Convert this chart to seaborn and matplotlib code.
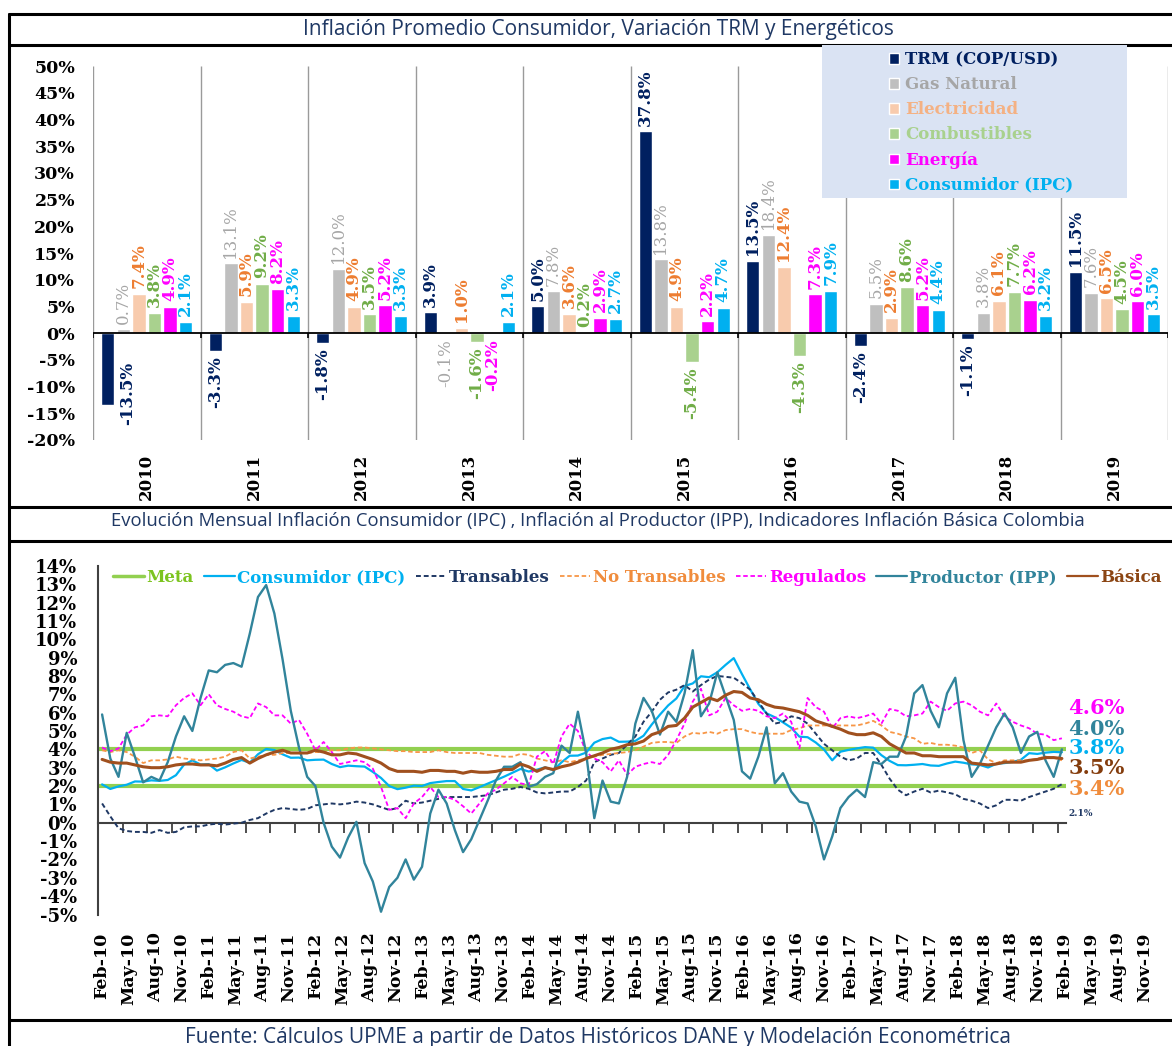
import numpy as np
import pandas as pd
import seaborn as sns
import matplotlib.pyplot as plt
from matplotlib.lines import Line2D
from matplotlib.patches import Patch, Rectangle

# ---------------- datos: variación anual (%) ----------------
years = ['2010', '2011', '2012', '2013', '2014', '2015', '2016', '2017', '2018', '2019']
trm = [-13.5, -3.3, -1.8, 3.9, 5.0, 37.8, 13.5, -2.4, -1.1, 11.5]
gas_natural = [0.7, 13.1, 12.0, -0.1, 7.8, 13.8, 18.4, 5.5, 3.8, 7.6]
electricidad = [7.4, 5.9, 4.9, 1.0, 3.6, 4.9, 12.4, 2.9, 6.1, 6.5]
combustibles = [3.8, 9.2, 3.5, -1.6, 0.2, -5.4, -4.3, 8.6, 7.7, 4.5]
energia = [4.9, 8.2, 5.2, -0.2, 2.9, 2.2, 7.3, 5.2, 6.2, 6.0]
ipc_anual = [2.1, 3.3, 3.3, 2.1, 2.7, 4.7, 7.9, 4.4, 3.2, 3.5]

bar_names = ['TRM (COP/USD)', 'Gas Natural', 'Electricidad', 'Combustibles', 'Energía', 'Consumidor (IPC)']
bar_colors = ['#002060', '#BFBFBF', '#F8CBAD', '#A9D18E', '#FF00FF', '#00B0F0']
bar_label_colors = ['#002060', '#A6A6A6', '#ED7D31', '#70AD47', '#FF00FF', '#00B0F0']
bar_legend_colors = ['#002060', '#A6A6A6', '#F4B183', '#A9D18E', '#FF00FF', '#00B0F0']

# ---------------- datos: series mensuales Feb-10 .. Nov-19 (%) ----------------
months = pd.date_range('2010-02-01', periods=118, freq='MS')
meta = [2.0, 4.0]

ipc = [2.09, 1.84, 1.98, 2.07, 2.25, 2.24, 2.31, 2.28, 2.33, 2.59, 3.17,
       3.40, 3.17, 3.19, 2.84, 3.02, 3.23, 3.42, 3.27, 3.73, 4.02, 3.96, 3.73,
       3.54, 3.55, 3.40, 3.43, 3.44, 3.20, 3.03, 3.11, 3.08, 3.06, 2.77, 2.44,
       2.00, 1.83, 1.91, 2.02, 2.00, 2.16, 2.22, 2.27, 2.27, 1.84, 1.76, 1.94,
       2.13, 2.32, 2.51, 2.72, 2.93, 2.79, 2.89, 3.02, 2.86, 3.29, 3.65, 3.66,
       3.82, 4.36, 4.56, 4.64, 4.41, 4.42, 4.46, 4.74, 5.35, 5.89, 6.39, 6.77,
       7.45, 7.59, 7.98, 7.93, 8.20, 8.60, 8.97, 8.10, 7.27, 6.48, 5.96, 5.75,
       5.47, 5.18, 4.69, 4.66, 4.37, 3.99, 3.40, 3.87, 3.97, 4.05, 4.12, 4.09,
       3.68, 3.37, 3.14, 3.13, 3.16, 3.20, 3.12, 3.10, 3.23, 3.33, 3.27, 3.18,
       3.15, 3.01, 3.21, 3.25, 3.31, 3.43, 3.79, 3.75, 3.82, 3.86, 3.84]

transables = [1.05, 0.35, -0.3, -0.45, -0.5, -0.5, -0.55, -0.4, -0.55, -0.5, -0.25, -0.2, -0.2, -0.1, -0.05, -0.1, -0.05,
              0.0, 0.15, 0.25, 0.5, 0.7, 0.8, 0.75, 0.7, 0.75, 0.95, 1.0, 1.05, 1.0, 1.05, 1.15, 1.1, 1.0,
              0.85, 0.7, 0.8, 1.2, 1.05, 1.1, 1.2, 1.3, 1.4, 1.4, 1.4, 1.4, 1.45, 1.5, 1.65, 1.8,
              1.85, 1.95, 1.85, 1.65, 1.6, 1.65, 1.7, 1.7, 1.95, 2.3, 3.3, 3.5, 3.7, 3.8, 4.25, 4.7, 5.5,
              6.05, 6.7, 7.1, 7.25, 7.5, 7.15, 7.5, 7.8, 8.0, 7.95, 7.9, 7.6, 7.25, 6.6, 5.95, 5.4, 5.5,
              5.8, 5.7, 5.4, 4.85, 4.3, 3.95, 3.6, 3.4, 3.5, 3.8, 3.8, 3.15, 2.4, 1.8, 1.5, 1.7, 1.85,
              1.65, 1.75, 1.65, 1.55, 1.3, 1.2, 1.05, 0.8, 0.95, 1.25, 1.25, 1.2, 1.4, 1.55, 1.7, 1.85, 2.1]

no_transables = [3.95, 3.85, 3.95, 3.85, 3.6, 3.25, 3.4, 3.4, 3.45, 3.6, 3.5, 3.45, 3.4, 3.45, 3.5, 3.6, 3.85,
                 3.95, 3.5, 3.6, 3.7, 3.7, 3.8, 3.8, 3.8, 3.8, 3.85, 3.85, 3.95, 3.95, 4.05, 4.1, 4.1, 4.05,
                 4.0, 3.95, 3.9, 3.9, 3.85, 3.85, 3.85, 3.95, 3.85, 3.8, 3.8, 3.8, 3.8, 3.7, 3.65, 3.6,
                 3.6, 3.75, 3.7, 3.5, 3.4, 3.3, 3.4, 3.3, 3.4, 3.5, 3.6, 3.7, 3.75, 3.8, 3.85, 3.95, 4.15,
                 4.35, 4.4, 4.4, 4.35, 4.7, 4.9, 4.85, 4.95, 4.85, 5.05, 5.1, 5.1, 4.95, 4.85, 4.85, 4.85, 4.85,
                 5.05, 5.15, 5.3, 5.3, 5.3, 5.3, 5.3, 5.3, 5.3, 5.4, 5.55, 5.3, 4.95, 4.85, 4.7, 4.6, 4.3,
                 4.35, 4.25, 4.25, 4.2, 4.1, 3.8, 3.95, 3.45, 3.25, 3.4, 3.4, 3.4, 3.4, 3.5, 3.6, 3.55, 3.4]

regulados = [4.1, 3.9, 4.05, 4.8, 5.2, 5.3, 5.8, 5.85, 5.8, 6.4, 6.8, 7.05, 6.4, 7.0, 6.4, 6.2, 6.05,
             5.8, 5.7, 6.5, 6.3, 5.85, 5.85, 5.4, 5.6, 4.85, 3.95, 4.4, 3.85, 3.2, 3.3, 3.4, 3.3, 2.95,
             1.95, 0.7, 0.8, 0.25, 1.05, 1.4, 1.95, 1.4, 1.4, 1.25, 0.9, 0.5, 1.05, 1.6, 1.8, 2.15,
             2.5, 2.15, 2.05, 3.6, 3.9, 3.2, 4.7, 5.4, 5.0, 3.85, 3.5, 3.3, 2.8, 3.4, 2.6, 3.05, 3.2,
             3.3, 3.2, 3.7, 4.5, 5.4, 6.6, 7.3, 5.85, 6.05, 6.8, 6.4, 6.1, 6.2, 6.1, 5.8, 5.7, 5.95,
             5.5, 4.05, 6.8, 6.3, 6.05, 5.15, 5.7, 5.8, 5.7, 5.8, 5.95, 5.4, 6.2, 6.1, 5.8, 5.85, 5.95,
             6.6, 6.3, 6.1, 6.5, 6.6, 6.4, 6.05, 5.85, 6.5, 5.8, 5.5, 5.3, 5.15, 4.85, 4.8, 4.5, 4.6]

ipp = [5.9, 3.5, 2.5, 4.9, 3.6, 2.2, 2.5, 2.3, 3.3, 4.7, 5.8, 5.0, 6.8, 8.3, 8.2, 8.6, 8.7,
       8.5, 10.3, 12.3, 12.95, 11.4, 8.9, 6.1, 4.1, 2.5, 2.0, 0.0, -1.3, -1.9, -0.8, 0.05, -2.2, -3.2,
       -4.85, -3.5, -3.0, -2.0, -3.1, -2.4, 0.5, 1.8, 1.05, -0.4, -1.6, -0.9, 0.15, 1.2, 2.3, 3.05,
       3.05, 3.3, 1.96, 2.1, 2.5, 2.7, 4.2, 3.8, 6.05, 3.8, 0.25, 2.3, 1.15, 1.05, 2.5, 5.4, 6.8,
       6.1, 4.8, 6.05, 5.5, 7.05, 9.4, 5.8, 6.5, 8.2, 6.9, 5.6, 2.8, 2.4, 3.6, 5.2, 2.15, 2.7,
       1.7, 1.15, 1.05, -0.2, -2.0, -0.75, 0.8, 1.4, 1.8, 1.4, 3.3, 3.2, 3.6, 3.6, 4.7, 7.05, 7.5,
       6.1, 5.2, 7.05, 7.9, 4.5, 2.5, 3.2, 4.2, 5.2, 5.95, 5.2, 3.8, 4.7, 4.95, 3.4, 2.5, 4.0]

basica = [3.45, 3.3, 3.25, 3.25, 3.15, 3.05, 3.0, 3.0, 3.05, 3.15, 3.2, 3.2, 3.15, 3.15, 3.1, 3.25, 3.45,
          3.55, 3.25, 3.5, 3.7, 3.85, 3.95, 3.8, 3.8, 3.8, 3.95, 3.85, 3.7, 3.7, 3.8, 3.75, 3.6, 3.45,
          3.25, 2.95, 2.8, 2.8, 2.8, 2.75, 2.85, 2.85, 2.8, 2.8, 2.7, 2.8, 2.75, 2.75, 2.8, 2.9,
          2.9, 3.2, 3.05, 2.8, 3.0, 2.9, 3.05, 3.15, 3.3, 3.5, 3.65, 3.8, 4.0, 4.1, 4.25, 4.3, 4.45,
          4.8, 4.95, 5.25, 5.3, 5.7, 6.3, 6.55, 6.8, 6.65, 6.95, 7.15, 7.1, 6.8, 6.7, 6.45, 6.3, 6.25,
          6.15, 6.05, 5.85, 5.55, 5.4, 5.25, 5.1, 4.9, 4.8, 4.8, 4.9, 4.7, 4.3, 4.05, 3.8, 3.8, 3.65,
          3.65, 3.6, 3.6, 3.6, 3.6, 3.25, 3.2, 3.15, 3.2, 3.3, 3.3, 3.3, 3.4, 3.45, 3.55, 3.55, 3.5]

month_ticklabels = list(months[::3].strftime('%b-%y'))

# ---------------- lienzo en pixeles ----------------
W, H = 1172, 1046


def fx(x):
    return x / W


def fy(y):
    return 1 - y / H


def box(x0, y0, x1, y1):
    return [fx(x0), fy(y1), (x1 - x0) / W, (y1 - y0) / H]


sns.set_theme(style='white')
plt.rcParams['font.family'] = ['DejaVu Serif']
plt.rcParams['font.weight'] = 'bold'

fig = plt.figure(figsize=(W / 100, H / 100), dpi=100)
fig.patch.set_facecolor('white')

# marco y separadores
for yy in [14, 45, 507, 541, 1020]:
    fig.add_artist(Line2D([fx(9), 1.0], [fy(yy), fy(yy)], transform=fig.transFigure, color='black', lw=2.2))
fig.add_artist(Line2D([fx(9), fx(9)], [fy(14), 0.0], transform=fig.transFigure, color='black', lw=2.2))

title_kw = dict(ha='center', va='center', family='Open Sans', fontweight='normal', color='#1F3864')
fig.text(fx(598), fy(30), 'Inflación Promedio Consumidor, Variación TRM y Energéticos', size=15, **title_kw)
fig.text(fx(598), fy(521), 'Evolución Mensual Inflación Consumidor (IPC) , Inflación al Productor (IPP), '
         'Indicadores Inflación Básica Colombia', size=13.3, **title_kw)
fig.text(fx(598), fy(1037), 'Fuente: Cálculos UPME a partir de Datos Históricos DANE y Modelación Econométrica',
         size=15, **title_kw)

# ---------------- gráfico de barras ----------------
ax1 = fig.add_axes(box(93, 66, 1168, 440))
top = pd.DataFrame({'Año': years, bar_names[0]: trm, bar_names[1]: gas_natural, bar_names[2]: electricidad,
                    bar_names[3]: combustibles, bar_names[4]: energia, bar_names[5]: ipc_anual})
top = top.melt(id_vars='Año', var_name='Serie', value_name='Valor')
sns.barplot(data=top, x='Año', y='Valor', hue='Serie', order=years, hue_order=bar_names,
            palette=bar_colors, saturation=1, width=0.87, gap=0.14, errorbar=None, legend=False, ax=ax1)

ax1.set_ylim(-20, 50)
ax1.set_xlim(-0.5, len(years) - 0.5)
bounds = np.arange(len(years) + 1) - 0.5
ax1.vlines(bounds, -20, 50, color='#9A9A9A', lw=1.0, zorder=0)
ax1.axhline(0, color='black', lw=1.3, zorder=3)
ax1.vlines(bounds, -1.0, 0, color='black', lw=1.2, zorder=3)

for i, cont in enumerate(ax1.containers):
    vals = [b.get_height() for b in cont]
    anns = ax1.bar_label(cont, labels=[f'{v:.1f}%' for v in vals], padding=4, rotation=90,
                         color=bar_label_colors[i], fontsize=12,
                         fontweight='normal' if i == 1 else 'bold')
    if i == 0:
        anns[0].xyann = (14, 31)

ax1.set_yticks(range(-20, 51, 5))
ax1.set_yticklabels([f'{t}%' for t in range(-20, 51, 5)])
ax1.set_xticks(range(len(years)))
ax1.set_xticklabels(years, rotation=90)
ax1.tick_params(axis='y', length=0, pad=13, labelsize=12.5, colors='black')
ax1.tick_params(axis='x', length=0, pad=10, labelsize=12, colors='black')
ax1.set_xlabel('')
ax1.set_ylabel('')
for s in ax1.spines.values():
    s.set_visible(False)

fig.add_artist(Rectangle((fx(822), fy(198)), (1127 - 822) / W, (198 - 45) / H, transform=fig.transFigure,
                         facecolor='#DAE3F3', edgecolor='none', zorder=3))
leg1 = fig.legend([Patch(facecolor=c) for c in bar_colors], bar_names, loc='upper left',
                  bbox_to_anchor=(fx(881), fy(43)), frameon=False, fontsize=12, borderpad=0,
                  handlelength=0.6, handleheight=0.6, handletextpad=0.35, labelspacing=0.48)
leg1.set_zorder(5)
for t, c in zip(leg1.get_texts(), bar_legend_colors):
    t.set_color(c)

# ---------------- gráfico de líneas mensual ----------------
ax2 = fig.add_axes(box(98, 565.8, 1066, 914.5))
idx = np.arange(len(months))

for m in meta:
    ax2.axhline(m, color='#92D050', lw=3, zorder=2)

line_specs = [
    ('Consumidor (IPC)', ipc, '#00B0F0', 1.6, '-', '#00B0F0'),
    ('Transables', transables, '#1F3864', 1.4, (0, (2.5, 1.5)), '#1F3864'),
    ('No Transables', no_transables, '#F79646', 1.3, (0, (2.5, 1.5)), '#F08C3C'),
    ('Regulados', regulados, '#FF00FF', 1.3, (0, (2.5, 1.5)), '#FF00FF'),
    ('Productor (IPP)', ipp, '#31849B', 1.7, '-', '#31849B'),
    ('Básica', basica, '#A0501E', 2.2, '-', '#8B4513'),
]
for name, vals, col, lw, ls, _ in line_specs:
    sns.lineplot(x=idx, y=vals, color=col, lw=lw, linestyle=ls, ax=ax2, zorder=3)

ax2.set_xlim(-0.5, len(months) - 0.5)
ax2.set_ylim(-5, 14)
ax2.set_yticks(range(-5, 15))
ax2.set_yticklabels([f'{t}%' for t in range(-5, 15)])
ax2.set_xticks(np.arange(2.5, len(months) - 1, 3))
ax2.set_xticklabels([])
ax2.tick_params(axis='x', direction='out', length=7, width=1.3, color='#404040', bottom=True)
ax2.tick_params(axis='y', length=0, pad=15, labelsize=13, colors='black')
ax2.spines['bottom'].set_position(('data', 0))
ax2.spines['bottom'].set_color('#404040')
ax2.spines['bottom'].set_linewidth(1.5)
ax2.spines['left'].set_color('#404040')
ax2.spines['left'].set_linewidth(1.5)
ax2.spines['top'].set_visible(False)
ax2.spines['right'].set_visible(False)
ax2.set_xlabel('')
ax2.set_ylabel('')

handles = [Line2D([], [], color='#92D050', lw=2.5)]
labels = ['Meta']
text_colors = ['#7CC41F']
for name, vals, col, lw, ls, tcol in line_specs:
    handles.append(Line2D([], [], color=col, lw=min(lw, 1.6), linestyle=ls))
    labels.append(name)
    text_colors.append(tcol)
leg2 = ax2.legend(handles, labels, ncol=7, loc='upper left', bbox_to_anchor=(fx(105), fy(561)),
                  bbox_transform=fig.transFigure, frameon=False, fontsize=12, borderpad=0,
                  handlelength=1.85, handletextpad=0.15, columnspacing=0.6)
for t, c in zip(leg2.get_texts(), text_colors):
    t.set_color(c)

# etiquetas de último valor
end_labels = [(regulados, '#FF00FF', 6.25, 15), (ipp, '#31849B', 5.12, 15), (ipc, '#00B0F0', 4.05, 15),
              (basica, '#843C0C', 2.98, 15), (no_transables, '#F08C3C', 1.85, 15),
              (transables, '#1F3864', 0.5, 6.5)]
for vals, col, ypos, size in end_labels:
    ax2.text(len(months) - 1 + 0.8, ypos, f'{vals[-1]:.1f}%', color=col, fontsize=size,
             ha='left', va='center', clip_on=False)

# etiquetas de meses
d = (1145 - 102) / (len(month_ticklabels) - 1)
ax3 = fig.add_axes(box(102 - d / 2, 929, 1145 + d / 2, 931))
ax3.set_xlim(-0.5, len(month_ticklabels) - 0.5)
ax3.set_xticks(range(len(month_ticklabels)))
ax3.set_xticklabels(month_ticklabels, rotation=90)
ax3.set_yticks([])
ax3.tick_params(axis='x', length=0, pad=1, labelsize=12.5, colors='black')
ax3.patch.set_alpha(0)
for s in ax3.spines.values():
    s.set_visible(False)

fig.savefig('out.png', dpi=100, facecolor='white')
